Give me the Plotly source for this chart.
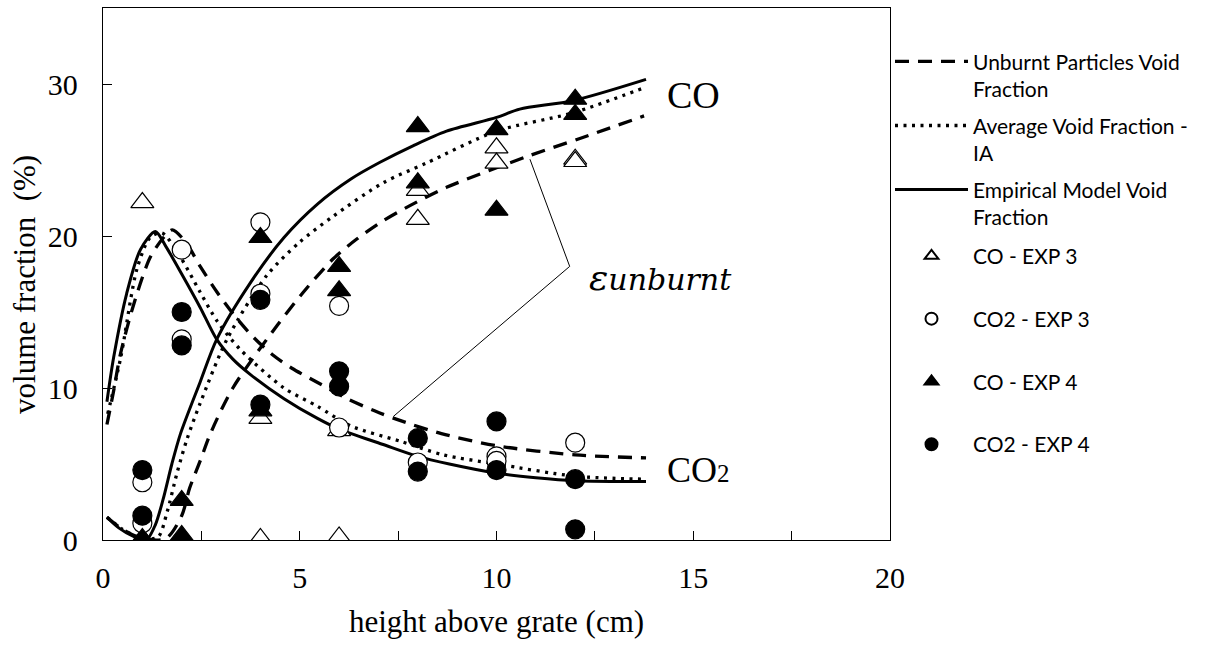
import plotly.graph_objects as go

# ---------------- measured gas composition (volume %) vs. height above grate (cm) ----------------
co_exp3_x = [1, 1, 2, 4, 4, 6, 6, 8, 8, 10, 10, 12, 12]
co_exp3_y = [22.2, 0.1, 0.1, 8.0, 0.1, 7.2, 0.2, 23.0, 21.1, 25.8, 24.8, 25.05, 24.9]

co2_exp3_x = [1, 1, 2, 2, 4, 4, 6, 6, 8, 10, 10, 12]
co2_exp3_y = [3.8, 1.1, 19.1, 13.2, 20.9, 16.2, 15.4, 7.4, 5.1, 5.5, 5.2, 6.4]

co_exp4_x = [1, 2, 2, 4, 4, 6, 6, 8, 8, 10, 10, 12, 12]
co_exp4_y = [0.1, 2.6, 0.3, 19.9, 8.5, 18.0, 16.4, 27.2, 23.5, 27.0, 21.7, 29.0, 28.0]

co2_exp4_x = [1, 1, 2, 2, 4, 4, 6, 6, 8, 8, 10, 10, 12, 12]
co2_exp4_y = [4.6, 1.6, 15.0, 12.8, 15.8, 8.9, 11.1, 10.1, 6.7, 4.5, 7.8, 4.6, 4.0, 0.7]

# ---------------- model predictions ----------------
# unburnt particles void fraction
unb_co_x = [0.1, 0.5, 1.0, 1.6, 2.0, 2.2, 2.47, 2.73, 3.3, 4.42, 5.09, 5.85, 6.45, 7.12, 7.8, 8.73, 10.85, 12.1, 13.75]
unb_co_y = [1.5, 0.7, 0.1, 0.1, 1.6, 3.4, 5.2, 7.0, 10.0, 14.1, 16.3, 18.5, 19.8, 21.0, 22.0, 23.2, 25.3, 26.4, 27.9]
unb_co2_x = [0.1, 0.27, 0.44, 0.78, 1.2, 1.54, 1.76, 2.1, 2.47, 2.9, 3.3, 3.8, 4.3, 4.8, 5.5, 6.2, 6.9, 7.45, 8.6, 10.0, 12.0, 13.8]
unb_co2_y = [7.6, 9.8, 12.2, 15.5, 18.6, 19.9, 20.4, 19.6, 18.0, 16.3, 14.9, 13.4, 12.2, 11.3, 10.3, 9.3, 8.5, 7.95, 7.0, 6.2, 5.6, 5.4]

# average void fraction - IA
avg_co_x = [0.1, 0.5, 1.0, 1.4, 1.63, 1.88, 2.13, 2.47, 3.15, 4.16, 5.0, 5.85, 7.12, 8.22, 10.0, 11.94, 13.8]
avg_co_y = [1.5, 0.7, 0.1, 0.2, 1.85, 4.4, 6.6, 9.0, 13.2, 17.4, 19.6, 21.3, 23.5, 24.8, 26.9, 28.1, 29.8]
avg_co2_x = [0.12, 0.45, 0.87, 1.2, 1.5, 1.97, 2.47, 2.9, 3.5, 4.6, 5.45, 6.3, 7.55, 8.65, 10.0, 12.0, 13.8]
avg_co2_y = [8.3, 12.0, 17.9, 19.9, 20.2, 18.6, 16.3, 14.4, 12.5, 10.0, 8.8, 7.5, 6.5, 5.6, 5.0, 4.2, 4.0]

# empirical model void fraction
emp_co_x = [0.1, 0.4, 0.8, 1.1, 1.33, 1.53, 1.75, 1.97, 2.47, 2.89, 3.74, 4.6, 5.45, 6.3, 7.04, 7.89, 8.73, 10.0, 10.59, 11.94, 13.8]
emp_co_y = [1.5, 0.8, 0.2, 0.0, 1.0, 2.7, 5.0, 7.0, 10.4, 13.2, 16.9, 19.9, 22.1, 23.75, 24.85, 25.95, 26.9, 27.8, 28.35, 28.9, 30.3]
emp_co2_x = [0.1, 0.27, 0.6, 0.95, 1.33, 1.6, 2.0, 2.47, 2.89, 3.3, 3.74, 4.6, 5.45, 6.0, 7.1, 8.0, 8.8, 10.0, 11.0, 12.0, 13.8]
emp_co2_y = [9.1, 12.0, 16.2, 19.1, 20.3, 19.3, 17.5, 15.3, 13.2, 11.9, 10.9, 9.3, 8.0, 7.3, 6.3, 5.5, 5.0, 4.4, 4.1, 3.9, 3.85]

# curve labels and the leader lines pointing at the unburnt-fraction curves
co_label_xy = (14.27, 29.3)
co2_label_xy = (14.27, 4.6)
eps_label_xy = (12.29, 17.3)
leader_vertex = (11.86, 18.0)
leader_ends = [(10.85, 25.05), (7.38, 8.13)]

SERIF = "Liberation Serif"
SANS = "Lato"
BLACK = "#000000"

fig = go.Figure()

models = [
    ("Unburnt Particles Void<br>Fraction", "unb", unb_co_x, unb_co_y, unb_co2_x, unb_co2_y,
     dict(color=BLACK, width=3.3, dash="14px,9px")),
    ("Average Void Fraction -<br>IA", "avg", avg_co_x, avg_co_y, avg_co2_x, avg_co2_y,
     dict(color=BLACK, width=3.3, dash="3px,5.5px")),
    ("Empirical Model Void<br>Fraction", "emp", emp_co_x, emp_co_y, emp_co2_x, emp_co2_y,
     dict(color=BLACK, width=3)),
]
for name, grp, cx, cy, c2x, c2y, ln in models:
    fig.add_trace(go.Scatter(x=cx, y=cy, mode="lines", name=name, legendgroup=grp,
                             line=dict(shape="spline", smoothing=0.8, **ln), legend="legend"))
    fig.add_trace(go.Scatter(x=c2x, y=c2y, mode="lines", name=name, legendgroup=grp,
                             showlegend=False, line=dict(shape="spline", smoothing=0.8, **ln),
                             legend="legend"))

markers = [
    ("CO - EXP 3", co_exp3_x, co_exp3_y, "triangle-up", "white", 20),
    ("CO2 - EXP 3", co2_exp3_x, co2_exp3_y, "circle", "white", 19),
    ("CO - EXP 4", co_exp4_x, co_exp4_y, "triangle-up", BLACK, 20),
    ("CO2 - EXP 4", co2_exp4_x, co2_exp4_y, "circle", BLACK, 19),
]
for name, mx, my, sym, fill, size in markers:
    fig.add_trace(go.Scatter(x=mx, y=my, mode="markers", name=name, legendgroup=name,
                             marker=dict(symbol=sym, size=size, color=fill,
                                         line=dict(color=BLACK, width=1.2)),
                             legend="legend2"))

# leader lines from the epsilon label to the dashed curves
for ex, ey in leader_ends:
    fig.add_shape(type="line", xref="x", yref="y", x0=leader_vertex[0], y0=leader_vertex[1],
                  x1=ex, y1=ey, line=dict(color=BLACK, width=1))

fig.add_annotation(x=co_label_xy[0], y=co_label_xy[1], xref="x", yref="y", text="CO",
                   showarrow=False, xanchor="left", yanchor="middle",
                   font=dict(family=SERIF, size=38, color=BLACK))
fig.add_annotation(x=co2_label_xy[0], y=co2_label_xy[1], xref="x", yref="y",
                   text="CO<span style='font-size:25px'>2</span>",
                   showarrow=False, xanchor="left", yanchor="middle",
                   font=dict(family=SERIF, size=36, color=BLACK))
fig.add_annotation(x=eps_label_xy[0], y=eps_label_xy[1], xref="x", yref="y",
                   text="<i>ε</i><span style='font-size:30px'><i>unburnt</i></span>",
                   showarrow=False, xanchor="left", yanchor="middle",
                   font=dict(family="DejaVu Serif", size=36, color=BLACK))

# y axis title
fig.add_annotation(x=-0.1, y=0.48, xref="paper", yref="paper", text="volume fraction  (%)",
                   textangle=-90, showarrow=False, xanchor="center", yanchor="middle",
                   font=dict(family=SERIF, size=31, color=BLACK))

axis_common = dict(showline=True, linecolor=BLACK, linewidth=1.3, mirror=True,
                   showgrid=False, zeroline=False, ticks="inside", ticklen=9,
                   tickwidth=1.2, tickcolor=BLACK,
                   tickfont=dict(family=SERIF, size=30, color=BLACK))

fig.update_layout(
    width=1207, height=645,
    margin=dict(l=103, r=317, t=8, b=105),
    paper_bgcolor="white", plot_bgcolor="white",
    xaxis=dict(range=[0, 20], dtick=5, ticklabelstandoff=11,
               minor=dict(dtick=2.5, ticks="inside", ticklen=9, tickwidth=1.2, tickcolor=BLACK,
                          showgrid=False),
               title=dict(text="height above grate (cm)", standoff=17,
                          font=dict(family=SERIF, size=31, color=BLACK)),
               **axis_common),
    yaxis=dict(range=[0, 35], dtick=10, ticklabelstandoff=18, **axis_common),
    legend=dict(x=1.0, xanchor="left", y=0.9375, yanchor="top", valign="top",
                font=dict(family=SANS, size=21, color=BLACK), itemwidth=73,
                tracegroupgap=6.5, bgcolor="rgba(0,0,0,0)", itemclick=False),
    legend2=dict(x=1.0, xanchor="left", y=0.572, yanchor="top", valign="middle",
                 font=dict(family=SANS, size=21, color=BLACK), itemwidth=73,
                 itemsizing="constant", tracegroupgap=32.5, bgcolor="rgba(0,0,0,0)",
                 itemclick=False),
    showlegend=True,
)

fig.write_html("out.html")
